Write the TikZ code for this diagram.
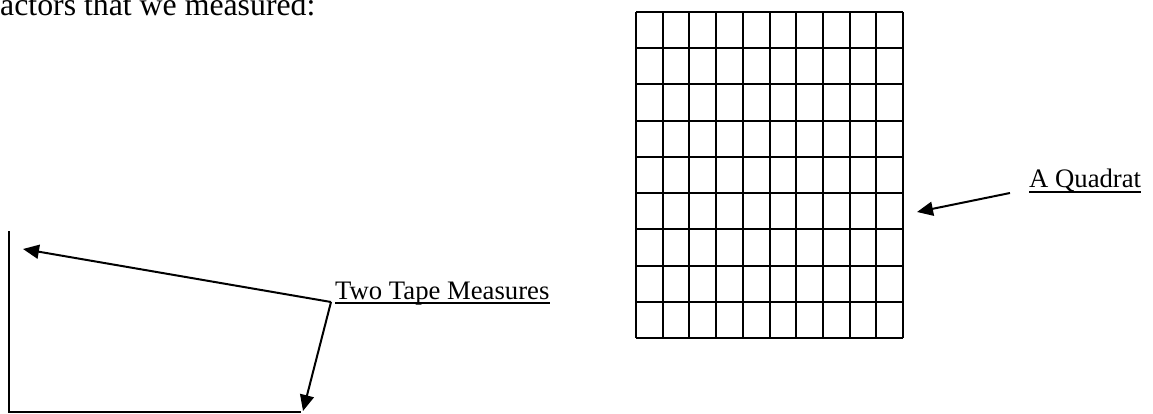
\documentclass[tikz,border=0pt]{standalone}
\usepackage{fontspec}
\setmainfont{Liberation Serif}
\usetikzlibrary{arrows.meta}
\begin{document}
\begin{tikzpicture}[x=1pt,y=-1pt,
  ln/.style={line width=2pt,line cap=rect},
  gridln/.style={line width=2pt},
  arr/.style={line width=2pt,-{Triangle[length=16pt,width=14pt]}},
  lab/.style={inner sep=0pt,anchor=base west,font=\fontsize{26.7}{32}\selectfont},
  ul/.style={line width=1.5pt}]
\useasboundingbox (0,0) rectangle (1153,414);
% top text
\node[inner sep=0pt,anchor=base west,font=\fontsize{31.8}{38}\selectfont] (intro) at (0,16) {actors that we measured:};
% axes
\coordinate (axtop) at (9,232);
\coordinate (axorig) at (9,412);
\coordinate (axend) at (300,412);
\draw[ln] (axtop) -- (axorig) -- (axend);
% tape measures label and arrows
\node[lab] (tape) at (335,299) {Two Tape Measures};
\draw[ul] ([yshift=-4pt]tape.base west) -- ([yshift=-4pt]tape.base east);
\coordinate (corner) at (331,302);
\coordinate (tipA) at (23,249);
\coordinate (tipB) at (303,411);
\draw[arr] (corner) -- (tipA);
\draw[arr] (corner) -- (tipB);
% quadrat grid
\foreach \i in {0,...,10} {
  \draw[gridln] ({636+\i*26.7},12) -- ({636+\i*26.7},338);
}
\foreach \j in {0,...,9} {
  \draw[gridln] (636,{12+\j*36.22}) -- (903,{12+\j*36.22});
}
\node[inner sep=0pt,minimum width=267pt,minimum height=326pt,anchor=north west] (quad) at (636,12) {};
% quadrat label
\node[lab] (qlab) at (1029,188) {A Quadrat};
\draw[ul] ([yshift=-4pt]qlab.base west) -- ([yshift=-4pt]qlab.base east);
\coordinate (qtail) at (1010,193);
\coordinate (qtip) at (917,212);
\draw[arr] (qtail) -- (qtip);
\end{tikzpicture}
\end{document}
